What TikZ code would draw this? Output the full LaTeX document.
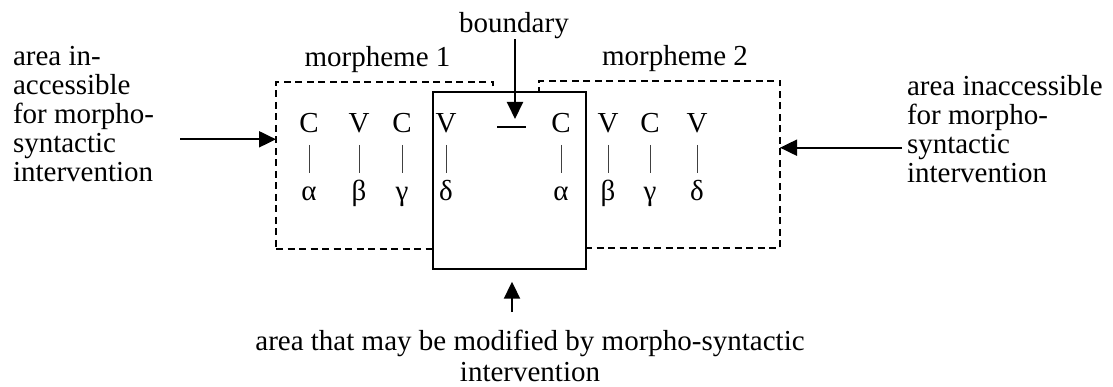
\documentclass[tikz,border=0pt]{standalone}
\usepackage{fontspec}
\setmainfont{Liberation Serif}
\usetikzlibrary{arrows.meta}
\begin{document}
\begin{tikzpicture}[x=1pt,y=-1pt,
  every node/.style={inner sep=0pt, outer sep=0pt,
    font=\fontsize{29}{29}\selectfont},
  seg/.style={anchor=base},
  link/.style={line width=1pt, draw=black!75},
  area/.style={draw, dash pattern=on 7pt off 4.5pt, line width=1.8pt},
  zone/.style={draw, line width=2.2pt, fill=white},
  pointer/.style={line width=2pt, -{Triangle[length=17pt,width=16pt]}},
  note/.style={align=left, anchor=north west}]
\useasboundingbox (0,0) rectangle (1113,387);

% dashed morpheme areas, the modifiable zone on top of them
\node[area, minimum width=217pt, minimum height=167pt] (m1) at (384.5,165.5) {};
\node[area, minimum width=241pt, minimum height=167pt] (m2) at (659.5,164.5) {};
\node[zone, minimum width=153pt, minimum height=177pt] (mod) at (509.2,180.5) {};

% skeleton: C/V positions over melodic elements
\foreach \n/\x/\s/\g in {1/309/C/α, 2/359/V/β, 3/402/C/γ, 4/446/V/δ,
                          5/561/C/α, 6/608/V/β, 7/650/C/γ, 8/697/V/δ} {
  \node[seg] (t\n) at (\x,133) {\s};
  \node[seg] (g\n) at (\x,201) {\g};
  \draw[link] ([yshift=-12pt]t\n.base) -- ([yshift=28pt]g\n.base);
}

% morpheme boundary
\coordinate (bl) at (497,127);
\coordinate (br) at (526,127);
\draw[line width=1.6pt] (bl) -- (br);
\node[anchor=base] (blab) at (514,33) {boundary};
\coordinate (btip) at (515,119);
\draw[pointer] (blab.south -| btip) -- (btip);

% morpheme labels
\node[anchor=base] (l1) at (377.5,66.5) {morpheme 1};
\node[anchor=base] (l2) at (675,66) {morpheme 2};

% side annotations
\node[note] (left) at (13,46.3) {area in-\\accessible\\for morpho-\\syntactic\\intervention};
\coordinate (ltail) at (180,139.3);
\draw[pointer] (ltail) -- (ltail -| m1.west);

\node[note] (right) at (907,75.3) {area inaccessible\\for morpho-\\syntactic\\intervention};
\coordinate (rtail) at (902,147.7);
\draw[pointer] (rtail) -- (rtail -| m2.east);

% bottom annotation
\node[align=center, anchor=north, font=\fontsize{29}{31}\selectfont] (bot) at (530,330.2)
  {area that may be modified by morpho-syntactic\\intervention};
\coordinate (utail) at (512,312);
\draw[pointer] (utail) -- ([yshift=-12.7pt]mod.south -| utail);
\end{tikzpicture}
\end{document}
